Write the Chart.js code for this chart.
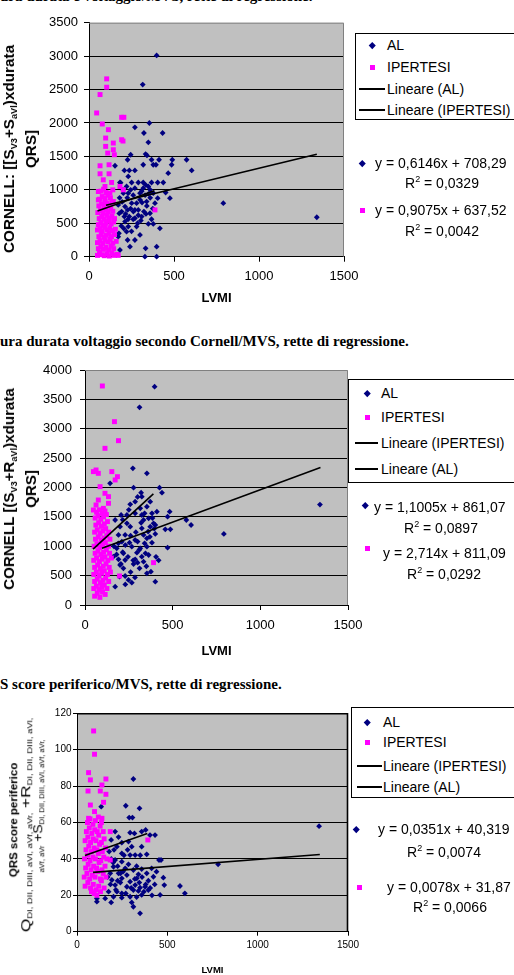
<!DOCTYPE html>
<html><head><meta charset="utf-8">
<script src="https://cdn.jsdelivr.net/npm/chart.js@4"></script>
<style>
html,body{margin:0;padding:0;background:#fff;}
body{width:514px;height:975px;overflow:hidden;position:relative;font-family:"Liberation Sans",Arial,sans-serif;color:#000;}
canvas{position:absolute;left:0;}
.t{position:absolute;white-space:nowrap;font-size:14px;line-height:16px;}
.cap{position:absolute;left:0;white-space:nowrap;font-family:"Liberation Serif","Times New Roman",serif;font-weight:bold;font-size:15px;line-height:16px;}
.box{position:absolute;border:1px solid #000;background:#fff;width:200px;}
.dia{position:absolute;width:4.5px;height:4.5px;background:#000080;transform:rotate(45deg);}
.sq{position:absolute;width:5px;height:5px;background:#ff00ff;}
.ln{position:absolute;height:2px;background:#000;}
.yt{position:absolute;white-space:nowrap;text-align:center;transform:translate(-50%,-50%) rotate(-90deg);}
.yt > div{display:block;white-space:nowrap;}
.yt .m{display:inline-block;white-space:nowrap;}
.yt sub{font-size:9px;vertical-align:baseline;position:relative;top:3px;line-height:0;}
.s7{font-size:7px;vertical-align:baseline;position:relative;top:2px;line-height:0;}
sup{font-size:9px;vertical-align:baseline;position:relative;top:-6px;line-height:0;}
</style></head><body>

<div class="cap" style="top:-11.6px">ura durata e voltaggio/MVS, rette di regressione.</div>
<canvas id="c1" width="375" height="310" style="top:0px"></canvas>
<div class="yt" id="yt1" style="left:20px;top:149px;font-weight:bold;font-size:15px;line-height:22px;">
  <div><span class="m">CORNELL: [[S<sub>V3</sub>+S<sub>aVl</sub>)xdurata</span></div><div>QRS]</div>
</div>

<div class="cap" style="top:333px">ura durata voltaggio secondo Cornell/MVS, rette di regressione.</div>
<canvas id="c2" width="375" height="310" style="top:350px"></canvas>
<div class="yt" id="yt2" style="left:20px;top:489px;font-weight:bold;font-size:15px;line-height:22px;">
  <div><span class="m">CORNELL [(S<sub>V3</sub>+R<sub>aVl</sub>)xdurata</span></div><div>QRS]</div>
</div>

<div class="cap" style="top:676px">S score periferico/MVS, rette di regressione.</div>
<canvas id="c3" width="375" height="275" style="top:700px"></canvas>
<div class="yt" id="yt3" style="left:25.5px;top:822px;font-size:12px;line-height:12.5px;">
  <div id="q1" style="font-weight:bold;font-size:11.5px"><span class="m">QRS score periferico</span></div>
  <div id="q2" style="font-size:13px"><span class="m">Q<span class="s7">DI, DII, DIII, aVl, aVf, aVr,</span> +R<span class="s7">DI, DII, DIII, aVl,</span></span></div>
  <div id="q3" style="font-size:13px"><span class="m"><span class="s7">aVf, aVr</span> +S<span class="s7">DI, DII, DIII, aVl, aVf, aVr,</span></span></div>
</div>

<script>
// ---------- DATA ----------
const xTicks = [0, 500, 1000, 1500];

// Chart 1: CORNELL [(SV3+SaVl) x durata QRS] vs LVMI
const cornell1_AL = [[398,3010],[316,2575],[355,2000],[270,1935],[323,1850],[433,1850],[349,1710],[245,1525],[333,1535],[341,1515],[227,1450],[319,1375],[368,1450],[378,1375],[412,1450],[490,1450],[486,1375],[574,1450],[604,1290],[208,1290],[237,1290],[270,1290],[394,1375],[466,1250],[153,1360],[231,1200],[182,1110],[251,1110],[290,1110],[319,1110],[333,1075],[368,1110],[404,1110],[437,1110],[221,1050],[270,1025],[319,1025],[349,1050],[202,950],[231,950],[300,950],[378,950],[451,960],[476,875],[404,875],[172,775],[212,750],[251,800],[280,800],[312,810],[339,825],[388,800],[192,675],[227,700],[261,675],[290,700],[323,675],[359,650],[208,600],[237,600],[270,575],[310,600],[368,560],[212,525],[286,500],[349,490],[378,490],[231,450],[417,425],[221,375],[300,325],[172,300],[227,250],[270,250],[241,150],[333,125],[398,150],[182,100],[329,0],[398,0],[790,800],[1340,590],[180,880],[195,820],[225,880],[245,720],[260,560],[290,620],[300,850],[340,760],[360,880],[375,720],[190,460],[205,420],[250,380],[215,640],[230,560],[270,700],[280,450],[305,540],[335,640],[350,940],[360,1000],[330,920],[310,980],[245,1000],[260,920],[200,1000],[186,1107],[178,648],[176,349]];
const cornell1_IP = [[104,2660],[104,2535],[65,2425],[45,2150],[192,2085],[205,2085],[78,1985],[114,1900],[192,1750],[200,1730],[98,1775],[143,1700],[98,1650],[143,1600],[110,1550],[149,1525],[65,1360],[118,1375],[65,1240],[118,1240],[84,1150],[133,1110],[94,1050],[182,1050],[202,1000],[55,975],[123,950],[55,850],[94,825],[143,825],[388,700],[172,20],
 [50,20],[62,60],[75,30],[90,15],[105,40],[120,10],[135,50],[150,20],[165,35],
 [55,120],[70,150],[85,110],[100,140],[115,100],[130,160],[145,120],
 [50,210],[65,240],[80,200],[95,250],[110,220],[125,260],[140,200],[160,230],
 [58,300],[72,330],[88,290],[102,320],[118,350],[132,300],[150,330],
 [50,400],[64,420],[78,380],[92,440],[108,400],[122,430],[138,390],[155,410],
 [55,480],[70,510],[85,470],[100,500],[115,530],[130,490],[145,520],
 [60,570],[75,600],[90,560],[105,620],[120,580],[135,610],[150,570],
 [52,660],[68,690],[82,650],[98,700],[112,670],[128,720],[140,680],
 [58,760],[74,790],[88,750],[104,800],[118,770],[134,810],
 [62,860],[78,900],[94,870],[110,920],[126,880],
 [70,980],[86,1010],[100,960],[140,1000]];
const cornell1_trendIP = [[50,683],[385,987]];
const cornell1_trendAL = [[100,770],[1340,1532]];
const cornell1_yTicks = [0,500,1000,1500,2000,2500,3000,3500];

// Chart 2: CORNELL [(SV3+RaVl) x durata QRS] vs LVMI
const cornell2_AL = [[397,3716],[311,3365],[273,2326],[353,2241],[143,2071],[425,1997],[439,1912],[277,1997],[320,1912],[324,1844],[258,1713],[286,1759],[315,1645],[353,1674],[372,1759],[206,1532],[239,1532],[286,1560],[324,1532],[382,1560],[410,1589],[483,1589],[471,1503],[172,1447],[239,1390],[334,1447],[363,1475],[391,1390],[578,1447],[605,1362],[200,1333],[258,1333],[324,1305],[372,1333],[401,1362],[458,1288],[487,1288],[792,1209],[191,1192],[229,1192],[334,1192],[401,1209],[286,1106],[353,1135],[210,1078],[254,1061],[382,1061],[181,965],[267,993],[315,965],[353,993],[471,976],[162,823],[219,880],[296,891],[324,823],[363,851],[191,777],[229,766],[286,777],[334,738],[200,681],[219,624],[277,698],[311,624],[376,567],[197,482],[248,426],[267,380],[172,312],[401,397],[229,494],[353,539],[1340,1710],[165,1000],[180,860],[190,1050],[205,700],[215,900],[230,1020],[245,820],[260,1180],[275,760],[290,1240],[300,1080],[310,940],[320,1400],[340,1050],[345,880],[360,1250],[370,1160],[385,1480],[395,1300],[405,820],[420,760],[260,560],[285,470],[300,720],[230,350],[350,660],[215,1450],[250,1620],[300,1840],[340,1560]];
const cornell2_IP = [[99,3728],[168,3121],[191,2797],[114,2667],[48,2270],[63,2298],[76,2241],[153,2270],[185,2184],[172,2128],[86,2014],[114,1901],[134,1844],[76,1787],[134,1731],[63,1702],[48,1617],[105,1645],[391,721],[197,494],
 [55,150],[70,200],[85,130],[100,220],[115,180],
 [50,280],[65,320],[80,260],[95,300],[110,340],[125,280],
 [55,400],[70,440],[88,380],[102,420],[118,460],[135,400],
 [50,520],[65,560],[80,500],[95,540],[110,580],[128,520],[145,560],
 [55,640],[72,680],[88,620],[104,660],[120,700],[138,640],
 [50,760],[66,800],[82,740],[98,780],[114,820],[130,760],[150,800],
 [58,880],[74,920],[90,860],[106,900],[122,940],[140,880],
 [52,1000],[68,1040],[84,980],[100,1020],[116,1060],[134,1000],
 [60,1120],[76,1160],[92,1100],[108,1140],[124,1180],[142,1120],
 [55,1240],[70,1280],[86,1220],[102,1260],[118,1300],[135,1240],
 [62,1360],[78,1400],[94,1340],[110,1380],[128,1420],
 [58,1480],[74,1520],[90,1460],[106,1500],[122,1540],
 [66,1580],[82,1620],[98,1560],[114,1600]];
const cornell2_trendIP = [[46,950],[390,1890]];
const cornell2_trendAL = [[97,968],[1343,2339]];
const cornell2_yTicks = [0,500,1000,1500,2000,2500,3000,3500,4000];

// Chart 3: QRS score periferico vs LVMI
const qrs_AL = [[312,83.9],[270,69.2],[346,67.8],[134,68.7],[289,62.7],[307,62.7],[211,55],[294,54.4],[318,54],[358,55],[380,55.9],[404,53.1],[432,53.1],[189,50.4],[248,48.9],[285,49.5],[221,46.7],[358,46.7],[303,46.7],[178,44],[248,43],[294,42.1],[322,42.1],[386,42.5],[454,39.4],[465,39.4],[781,37],[211,39.4],[248,38.5],[202,35.7],[267,34.8],[312,33.9],[358,34.4],[413,34.8],[184,32.1],[230,32.1],[276,31.1],[340,31.5],[386,32.1],[193,28.4],[248,29.3],[294,27.5],[331,29.3],[423,30.2],[478,29.7],[211,25.6],[276,24.7],[322,25.6],[349,24.2],[377,24.7],[483,25.6],[570,25.1],[175,22],[221,22],[248,21.1],[312,22.9],[340,22.4],[395,22.9],[597,21.1],[202,19.2],[248,18.7],[294,19.2],[358,20.2],[460,20.2],[110,18.3],[110,16.5],[189,16.1],[303,16.1],[312,13.7],[349,10.1],[156,18.3],[1340,58],[170,30],[185,26],[200,38],[215,23],[225,36],[240,27],[255,33],[270,21],[285,37],[300,24],[320,29],[330,19],[345,27],[360,30],[370,22],[380,26],[395,28],[405,24],[415,20],[430,26],[440,33],[350,42],[330,36],[280,45],[260,42],[240,32],[225,28],[190,40],[205,45],[230,52]];
const qrs_IP = [[92,110.3],[97,97.5],[64,87.4],[74,83.4],[160,83.9],[138,80.6],[61,77.3],[129,77.3],[160,75.5],[147,71.1],[74,69.6],[97,66],[64,62.3],[138,62.3],[392,50.4],[184,55],[184,39.4],
 [45,25],[60,27],[75,24],[90,26],[105,23],[120,25],[135,28],[150,24],
 [40,30],[55,32],[70,29],[85,31],[100,30],[115,33],[130,29],[145,32],[160,30],
 [48,35],[62,37],[78,34],[92,36],[108,35],[122,38],[138,34],[155,36],
 [42,40],[58,42],[72,39],[88,41],[102,40],[118,43],[132,39],[148,41],[165,40],
 [50,45],[65,47],[80,44],[95,46],[110,45],[125,48],[140,44],[158,46],
 [45,50],[60,52],[75,49],[90,51],[105,50],[120,53],[135,49],[150,51],
 [52,55],[68,57],[82,54],[98,56],[112,55],[128,58],[145,55],
 [58,60],[72,62],[88,59],[102,61],[118,63],[135,60],
 [80,22],[95,21],[110,20],[130,22]];
const qrs_trendA = [[44,41.9],[389,54]];
const qrs_trendB = [[89,32.6],[1344,42.4]];
const qrs_yTicks = [0,20,40,60,80,100,120];

// ---------- RENDERING ----------
Chart.defaults.font.family = '"Liberation Sans", Arial, sans-serif';
Chart.defaults.color = '#000';

const plotBg = {
  id: 'plotBg',
  beforeDraw(chart) {
    const {ctx, chartArea: a} = chart;
    ctx.save(); ctx.fillStyle = '#c0c0c0';
    ctx.fillRect(a.left, a.top, a.right - a.left, a.bottom - a.top); ctx.restore();
  },
  beforeDatasetsDraw(chart, args, opts) {
    const {ctx, chartArea: a} = chart;
    ctx.save(); ctx.strokeStyle = opts.color; ctx.lineWidth = opts.width;
    ctx.beginPath();
    ctx.moveTo(a.left, a.top + 0.5); ctx.lineTo(a.right - 0.5, a.top + 0.5); ctx.lineTo(a.right - 0.5, a.bottom);
    ctx.stroke(); ctx.restore();
  }
};

function makeChart(id, g) {
  const yMax = g.yTicks[g.yTicks.length - 1];
  return new Chart(document.getElementById(id), {
    type: 'scatter',
    plugins: [plotBg],
    data: { datasets: [
      { data: g.trendA, showLine: true, borderColor: '#000', borderWidth: 1.6, pointRadius: 0, clip: false },
      { data: g.trendB, showLine: true, borderColor: '#000', borderWidth: 1.6, pointRadius: 0, clip: false },
      { label: 'IPERTESI', data: g.ip, pointStyle: 'rect', pointRadius: 3.5, backgroundColor: '#ff00ff', borderWidth: 0, clip: false },
      { label: 'AL', data: g.al, pointStyle: 'rectRot', pointRadius: 2.9, backgroundColor: '#000080', borderWidth: 0, clip: false }
    ]},
    options: {
      responsive: false, animation: false, devicePixelRatio: 1,
      layout: { padding: { left: 0, top: g.padTop, right: g.padRight, bottom: 0 } },
      plugins: { legend: { display: false }, tooltip: { enabled: false }, plotBg: { color: g.topColor, width: g.topWidth } },
      scales: {
        x: {
          type: 'linear', min: xTicks[0], max: xTicks[xTicks.length - 1],
          afterBuildTicks: s => { s.ticks = xTicks.map(v => ({ value: v })); },
          ticks: { font: { size: g.tickSize }, color: '#000', padding: g.xPad, maxRotation: 0, callback: v => String(v) },
          grid: { drawOnChartArea: false, drawTicks: true, tickLength: g.xTick, color: '#000' },
          border: { color: '#000', width: 1 },
          title: { display: true, text: 'LVMI', color: '#000', font: { size: g.titleSize, weight: 'bold', lineHeight: g.titleLH }, padding: { top: 0, bottom: g.titlePad } },
          afterFit: s => { s.height = g.xH; s.paddingLeft = 0; s.paddingRight = 0; }
        },
        y: {
          type: 'linear', min: g.yTicks[0], max: yMax,
          afterBuildTicks: s => { s.ticks = g.yTicks.map(v => ({ value: v })); },
          ticks: { font: { size: g.tickSize }, color: '#000', padding: g.yPad, callback: v => String(v) },
          grid: { color: c => (c.tick && c.tick.value === yMax) ? 'rgba(0,0,0,0)' : '#000', tickColor: '#000', tickLength: g.yTick, lineWidth: 1 },
          border: { color: '#000', width: 1 },
          afterFit: s => { s.width = g.yW; s.paddingTop = 0; s.paddingBottom = 0; }
        }
      }
    }
  });
}

makeChart('c1', { al: cornell1_AL, ip: cornell1_IP, trendA: cornell1_trendIP, trendB: cornell1_trendAL, yTicks: cornell1_yTicks,
  padTop: 22.7, padRight: 31, yW: 89, xH: 53.3, tickSize: 13, xPad: 7, xTick: 5, yPad: 6, yTick: 5,
  titleSize: 13, titleLH: 1.2, titlePad: 4.2, topColor: '#808080', topWidth: 1 });
makeChart('c2', { al: cornell2_AL, ip: cornell2_IP, trendA: cornell2_trendIP, trendB: cornell2_trendAL, yTicks: cornell2_yTicks,
  padTop: 20, padRight: 27, yW: 85, xH: 55, tickSize: 13, xPad: 7.2, xTick: 5, yPad: 8, yTick: 5,
  titleSize: 13, titleLH: 1.2, titlePad: 1.2, topColor: '#808080', topWidth: 1 });
makeChart('c3', { al: qrs_AL, ip: qrs_IP, trendA: qrs_trendA, trendB: qrs_trendB, yTicks: qrs_yTicks,
  padTop: 13.3, padRight: 27, yW: 77, xH: 43.3, tickSize: 10, xPad: 3.3, xTick: 4, yPad: 1.5, yTick: 4,
  titleSize: 9.5, titleLH: 1, titlePad: 0, topColor: '#000', topWidth: 1.6 });

// fit rotated axis titles to the length they have in the reference
function fitTitle(id, target) {
  const el = document.getElementById(id);
  const w = el.querySelector('.m').offsetWidth;
  el.style.transform = 'translate(-50%,-50%) rotate(-90deg) scaleX(' + (target / w) + ')';
}
function fitLine(id, target, dx) {
  const el = document.getElementById(id);
  const w = el.querySelector('.m').offsetWidth;
  el.style.transform = 'translateX(' + dx + 'px) scaleX(' + (target / w) + ')';
}
fitTitle('yt1', 208);
fitTitle('yt2', 202);
fitLine('q1', 114, 2);
fitLine('q2', 214, -3);
fitLine('q3', 133, 16);

// ---------- legends and regression labels (HTML text) ----------
function add(cls, x, y, w, h, html) {
  const d = document.createElement('div'); d.className = cls;
  d.style.left = x + 'px'; d.style.top = y + 'px';
  if (w != null) d.style.width = w + 'px';
  if (h != null) d.style.height = h + 'px';
  if (html) d.innerHTML = html;
  document.body.appendChild(d); return d;
}
const T = (x, yc, html) => add('t', x, yc - 8, null, null, html);
const D = (x, yc) => add('dia', x - 2.25, yc - 2.25);
const S = (x, yc) => add('sq', x - 2.5, yc - 2.5);
const L = (x1, x2, yc) => add('ln', x1, yc - 1, x2 - x1, null);
const B = (x, y, h) => add('box', x, y, null, h);

// chart 1
B(355, 33, 85);
D(372, 45); T(387, 45, 'AL');
S(372, 67); T(387, 67, 'IPERTESI');
L(359, 385, 89); T(387, 89, 'Lineare (AL)');
L(359, 385, 110); T(387, 110, 'Lineare (IPERTESI)');
D(362, 163); T(375, 163, 'y = 0,6146x + 708,29');
T(405, 183, 'R<sup>2</sup> = 0,0329');
S(362, 210); T(375, 210, 'y = 0,9075x + 637,52');
T(405, 231, 'R<sup>2</sup> = 0,0042');

// chart 2
B(348, 379, 102);
D(367, 393); T(381, 393, 'AL');
S(367, 417); T(381, 417, 'IPERTESI');
L(355, 378, 443); T(381, 443, 'Lineare (IPERTESI)');
L(355, 378, 469); T(381, 469, 'Lineare (AL)');
D(365, 505); T(374, 507, 'y = 1,1005x + 861,07');
T(404, 528, 'R<sup>2</sup> = 0,0897');
S(367, 548); T(383, 553, 'y = 2,714x + 811,09');
T(407, 574, 'R<sup>2</sup> = 0,0292');

// chart 3
B(351, 707, 89);
D(367, 722); T(383, 722, 'AL');
S(367, 742); T(383, 742, 'IPERTESI');
L(357, 382, 766); T(383, 766, 'Lineare (IPERTESI)');
L(357, 382, 787); T(383, 787, 'Lineare (AL)');
D(356, 829); T(378, 829, 'y = 0,0351x + 40,319');
T(407, 852, 'R<sup>2</sup> = 0,0074');
S(359, 887); T(387, 887, 'y = 0,0078x + 31,87');
T(413, 907, 'R<sup>2</sup> = 0,0066');
</script>
</body></html>
